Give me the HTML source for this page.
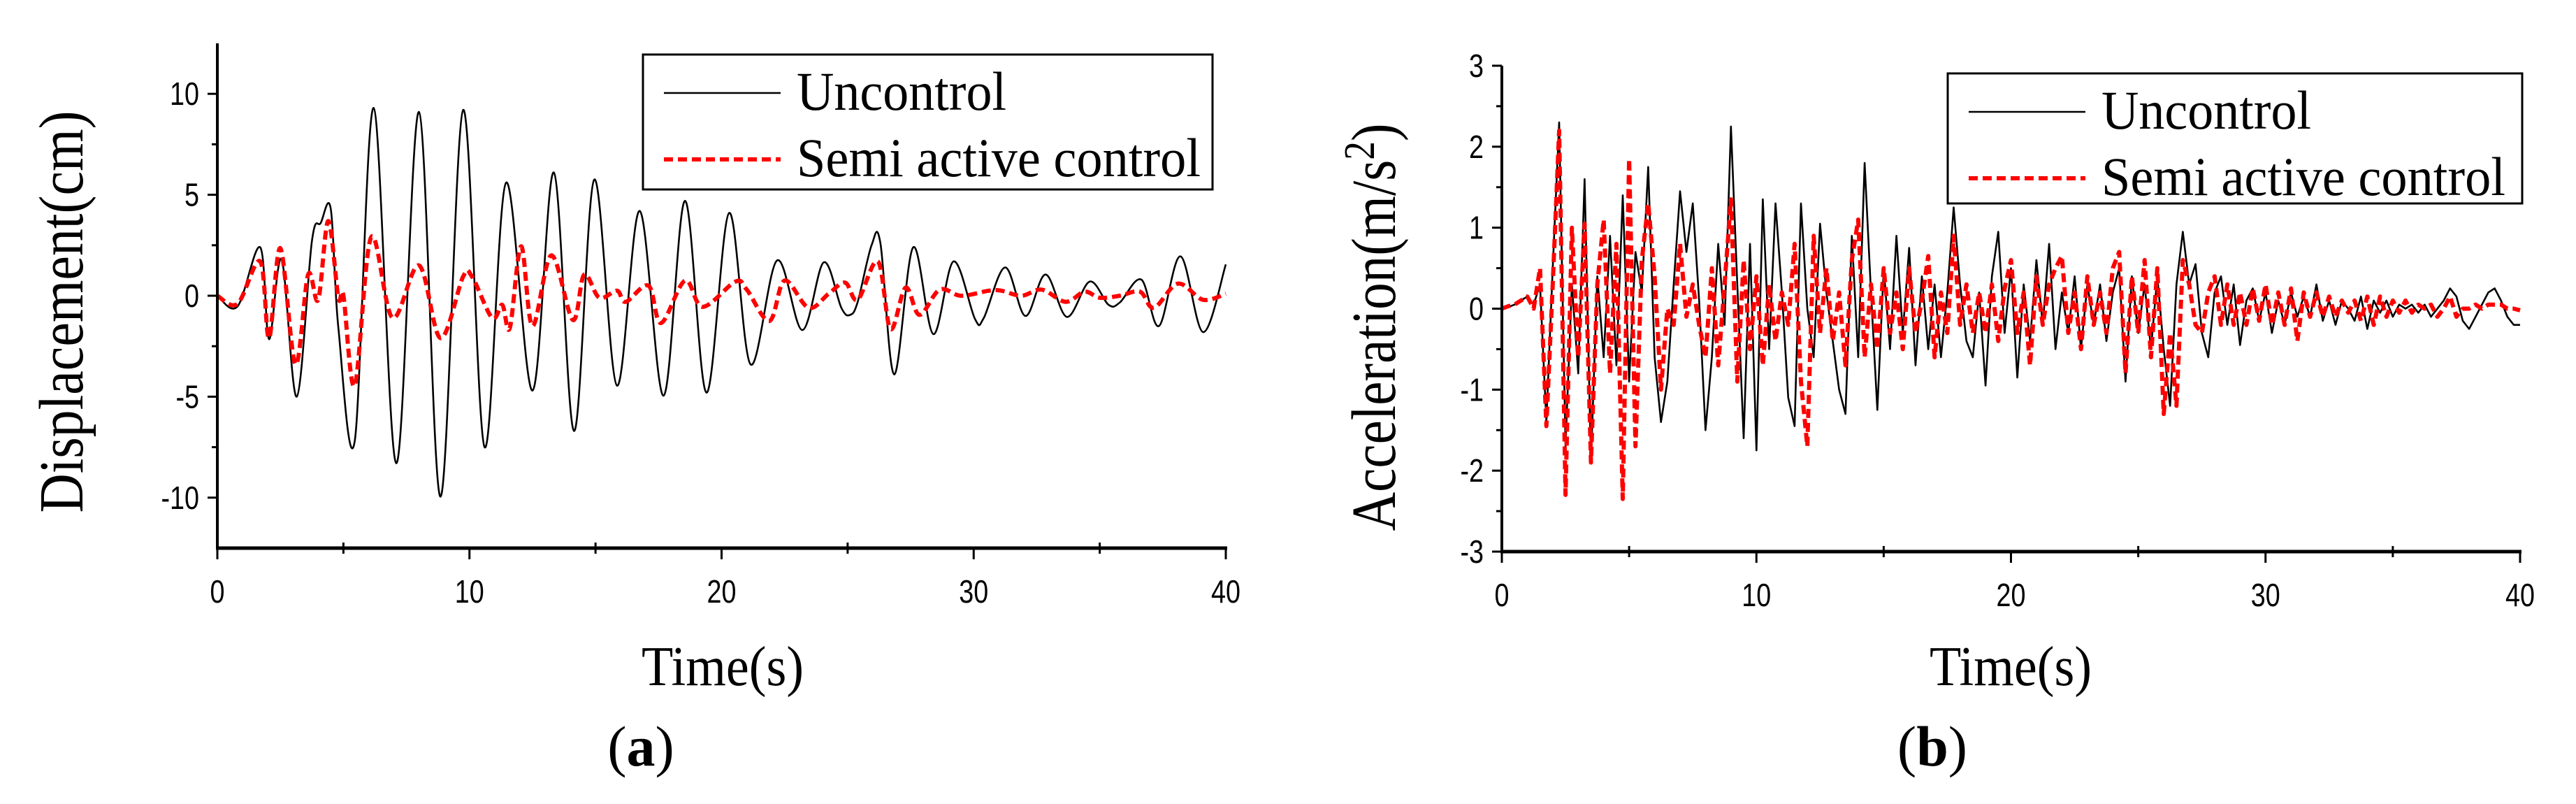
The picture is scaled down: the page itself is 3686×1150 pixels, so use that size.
<!DOCTYPE html>
<html><head><meta charset="utf-8"><style>
html,body{margin:0;padding:0;background:#fff;}
svg{display:block;}
</style></head><body>
<svg id="fig" width="3686" height="1150" viewBox="0 0 3686 1150" xmlns="http://www.w3.org/2000/svg"></svg>
<script>
// ---------- Panel (a): displacement (cm) ----------
const dispTimeU = [0,0.8,1.7,2.05,2.55,3.15,3.75,4.1,4.5,4.8,5.45,6.2,7.1,8.0,8.85,9.75,10.6,11.45,12.5,13.35,14.15,14.95,15.85,16.75,17.7,18.55,19.4,20.3,21.15,22.2,23.2,24.05,24.75,25.1,25.4,25.95,26.3,26.85,27.6,28.4,29.2,30.05,30.4,31.25,32.05,32.85,33.7,34.6,35.35,35.8,36.65,37.35,38.2,39.1,40];
const dispValU = [0,-0.53,2.4,-2.15,1.8,-5.0,2.7,3.6,4.3,-1.6,-7.2,9.3,-8.3,9.1,-9.95,9.2,-7.5,5.6,-4.7,6.1,-6.7,5.75,-4.45,4.2,-4.95,4.7,-4.8,4.1,-3.4,1.75,-1.7,1.65,-0.6,-0.95,-0.3,2.5,2.6,-3.9,2.4,-1.9,1.7,-1.15,-1.1,1.4,-1.0,1.05,-1.05,0.7,-0.45,-0.33,0.8,-1.5,1.95,-1.8,1.55];
const dispTimeS = [0,0.8,1.7,2.05,2.5,3.1,3.6,4.0,4.4,4.8,5.0,5.45,6.1,6.95,8.0,8.85,9.75,10.1,10.9,11.3,11.6,12.05,12.5,13.25,14.1,14.55,15.15,15.85,16.2,17.1,17.6,18.55,19.25,20.55,21.0,21.9,22.5,23.45,24.25,24.9,25.4,26.2,26.7,27.3,27.85,28.65,29.5,30.6,31.1,31.9,32.7,33.65,34.4,35.0,35.8,36.6,37.15,38.1,39.1,40];
const dispValS = [0,-0.4,1.7,-2.1,2.35,-3.4,1.05,-0.2,3.7,-0.1,0,-4.45,2.9,-1.1,1.5,-2.1,0.95,0.95,-1.1,-0.45,-1.6,2.45,-1.5,2.0,-1.2,1.05,-0.1,0.25,-0.3,0.5,-1.35,0.75,-0.55,0.7,0.3,-1.25,0.75,-0.6,0.1,0.65,-0.2,1.7,-1.65,0.4,-0.95,0.3,0,0.25,0.25,0,0.3,-0.3,0.2,-0.1,0,0.2,-0.6,0.6,-0.2,0.1];
const dispYTicks = [-10,-5,0,5,10];
const xTicks = [0,10,20,30,40];

// ---------- Panel (b): acceleration (m/s2), sampled every accDt seconds ----------
const accDt = 0.25;
const accValU = [0,0.02,0.05,0.1,0.15,0.05,0.3,-1.4,0.5,2.3,-1.7,0.3,-0.8,1.6,-1.9,0.4,-0.6,0.9,-0.7,1.4,-0.9,0.7,0.2,1.75,-0.6,-1.4,-0.9,0.3,1.45,0.7,1.3,0.1,-1.5,-0.6,0.8,-0.2,2.25,0.3,-1.6,0.8,-1.75,1.35,-0.5,1.3,0.2,-1.1,-1.45,1.3,0,-0.6,1.05,0.2,-0.4,-1.0,-1.3,0.9,-0.6,1.8,0.2,-1.25,0.5,-0.5,0.9,-0.3,0.75,-0.7,0.4,-0.5,0.3,-0.6,0.2,1.25,0.3,-0.4,-0.6,0.2,-0.95,0.4,0.95,-0.3,0.5,-0.85,0.3,-0.4,0.6,-0.2,0.8,-0.5,0.2,-0.3,0.4,-0.5,0.3,-0.2,0.3,-0.4,0.2,0.5,-0.9,0.4,-0.3,0.3,-0.5,0.4,-0.5,-1.2,0.3,0.95,0.3,0.55,-0.3,-0.6,0.2,0.4,-0.2,0.3,-0.45,0.1,0.25,-0.15,0.2,-0.3,0.1,-0.2,0.2,-0.1,0.15,-0.1,0.3,-0.15,0.1,-0.2,0.1,0,-0.15,0.15,-0.25,0.1,-0.05,0.1,-0.1,0.05,0,0.05,-0.05,0.05,-0.1,0,0.1,0.25,0.15,-0.15,-0.25,-0.1,0.05,0.2,0.25,0.1,-0.1,-0.2,-0.2];
const accValS = [0,0.03,0.05,0.1,0.15,0,0.5,-1.45,0.3,2.2,-2.3,1.0,-0.6,1.05,-1.9,0.3,1.1,-0.8,0.8,-2.35,1.85,-1.7,0.6,1.3,0.4,-1.0,0,-0.2,0.8,-0.1,0.3,-0.2,-0.6,0.5,-0.7,0.3,1.35,-0.9,0.6,-0.5,0.4,-0.7,0.3,-0.4,0.2,-0.2,0.8,-0.9,-1.7,0.9,-0.3,0.5,-0.4,0.2,-0.7,0.6,1.1,-0.6,0.3,-0.5,0.5,-0.3,0.2,-0.5,0.5,-0.3,0.1,0.65,-0.6,0.2,-0.3,0.9,-0.2,0.3,-0.3,0.2,-0.3,0.3,-0.4,0.25,0.6,-0.3,0.2,-0.7,0.4,-0.2,0.3,0.5,0.65,-0.3,0.2,-0.5,0.4,-0.2,0.2,-0.3,0.5,0.7,-0.8,0.4,-0.3,0.6,-0.6,0.5,-1.3,-0.3,-1.2,0.6,0.3,-0.2,-0.3,0.2,0.4,-0.2,0.3,-0.2,0.2,-0.2,0.25,-0.15,0.3,-0.2,0.2,-0.2,0.25,-0.4,0.2,-0.1,0.2,-0.1,0.15,-0.1,0.1,-0.05,0.1,-0.15,0.15,-0.2,0.15,-0.1,0.1,-0.05,0.1,-0.05,0.05,0,0.05,-0.1,0,0.15,-0.1,0,0,0.05,0,0.05,0.05,0.05,0,0,-0.02];
const accYTicks = [-3,-2,-1,0,1,2,3];

const NS = 'http://www.w3.org/2000/svg';
const svg = document.getElementById('fig');
function mk(tag, attrs, parent){
  const e = document.createElementNS(NS, tag);
  for (const k in attrs) e.setAttribute(k, attrs[k]);
  (parent||svg).appendChild(e);
  return e;
}
function smoothPath(pts){
  let d = 'M' + pts[0][0].toFixed(1) + ',' + pts[0][1].toFixed(1);
  for (let i=0;i<pts.length-1;i++){
    const p0=pts[Math.max(0,i-1)], p1=pts[i], p2=pts[i+1], p3=pts[Math.min(pts.length-1,i+2)];
    const c1x=p1[0]+(p2[0]-p0[0])/6, c1y=p1[1]+(p2[1]-p0[1])/6;
    const c2x=p2[0]-(p3[0]-p1[0])/6, c2y=p2[1]-(p3[1]-p1[1])/6;
    d += ' C'+c1x.toFixed(1)+','+c1y.toFixed(1)+' '+c2x.toFixed(1)+','+c2y.toFixed(1)+' '+p2[0].toFixed(1)+','+p2[1].toFixed(1);
  }
  return d;
}
function linePath(pts){
  return 'M' + pts.map(p=>p[0].toFixed(1)+','+p[1].toFixed(1)).join(' L');
}

function panel(cfg){
  const g = mk('g', {});
  
  
  const xs = t => cfg.x0 + (t - 0) / 40 * (cfg.x1 - cfg.x0);
  const ys = v => cfg.yB + (v - cfg.vmin) / (cfg.vmax - cfg.vmin) * (cfg.yT - cfg.yB);

  // series
  const su = mk('path', {d: cfg.smooth ? smoothPath(cfg.tu.map((t,i)=>[xs(t), ys(cfg.vu[i])])) : linePath(cfg.tu.map((t,i)=>[xs(t), ys(cfg.vu[i])])), fill:'none', stroke:'#000', 'stroke-width':2.6, 'stroke-linejoin':'round'}, g);
  
  
  const ss = mk('path', {d: cfg.smooth ? smoothPath(cfg.ts.map((t,i)=>[xs(t), ys(cfg.vs[i])])) : linePath(cfg.ts.map((t,i)=>[xs(t), ys(cfg.vs[i])])), fill:'none', stroke:'#f00', 'stroke-width':6, 'stroke-dasharray':'13,7', 'stroke-linejoin':'round'}, g);
  
  

  // axes
  const ya = mk('line', {x1:cfg.x0, y1:cfg.yT, x2:cfg.x0, y2:cfg.yB+2, stroke:'#000','stroke-width':4}, g);
  
  
  const xa = mk('line', {x1:cfg.x0-2, y1:cfg.yB, x2:cfg.x1+2, y2:cfg.yB, stroke:'#000','stroke-width':5}, g);
  
  

  // y ticks
  cfg.yticks.forEach(v=>{
    const y = ys(v);
    mk('line',{x1:cfg.x0-14,y1:y,x2:cfg.x0,y2:y,stroke:'#000','stroke-width':3},g);
    const t = mk('text',{x:cfg.x0-26,y:y+16,'text-anchor':'end','font-family':'"Liberation Sans Narrow","Liberation Sans",sans-serif','font-size':46,transform:'translate('+(cfg.x0-26)+',0) scale(0.82,1) translate('+(-(cfg.x0-26))+',0)'},g);
    t.textContent = v;
    
    
  });
  for (let i=0;i<cfg.yticks.length-1;i++){
    const y = ys((cfg.yticks[i]+cfg.yticks[i+1])/2);
    mk('line',{x1:cfg.x0-8,y1:y,x2:cfg.x0,y2:y,stroke:'#000','stroke-width':3},g);
  }
  // x ticks
  xTicks.forEach(v=>{
    const x = xs(v);
    mk('line',{x1:x,y1:cfg.yB,x2:x,y2:cfg.yB+16,stroke:'#000','stroke-width':3},g);
    const t = mk('text',{x:x,y:cfg.yB+78,'text-anchor':'middle','font-family':'"Liberation Sans Narrow","Liberation Sans",sans-serif','font-size':46,transform:'translate('+x+',0) scale(0.82,1) translate('+(-x)+',0)'},g);
    t.textContent = v;
    
    
  });
  for (let i=0;i<xTicks.length-1;i++){
    const x = xs((xTicks[i]+xTicks[i+1])/2);
    mk('line',{x1:x,y1:cfg.yB-8,x2:x,y2:cfg.yB+8,stroke:'#000','stroke-width':3},g);
  }

  // legend
  const lg = mk('g',{},g);
  
  
  const L = cfg.leg;
  mk('rect',{x:L.x,y:L.y,width:L.w,height:L.h,fill:'#fff',stroke:'#000','stroke-width':3},lg);
  const l1y = L.y + 55, l2y = L.y + 150;
  mk('line',{x1:L.x+30,y1:l1y,x2:L.x+197,y2:l1y,stroke:'#000','stroke-width':2.6},lg);
  mk('line',{x1:L.x+30,y1:l2y,x2:L.x+197,y2:l2y,stroke:'#f00','stroke-width':6,'stroke-dasharray':'13,7'},lg);
  const t1 = mk('text',{x:L.x+220,y:l1y+24,'font-family':'"Liberation Serif",serif','font-size':78,textLength:300,lengthAdjust:'spacingAndGlyphs'},lg);
  t1.textContent = 'Uncontrol';
  
  
  const t2 = mk('text',{x:L.x+220,y:l2y+24,'font-family':'"Liberation Serif",serif','font-size':78,textLength:578,lengthAdjust:'spacingAndGlyphs'},lg);
  t2.textContent = 'Semi active control';
  
  

  // x title
  const xt = mk('text',{x:cfg.xtX,y:980,'text-anchor':'middle','font-family':'"Liberation Serif",serif','font-size':80,textLength:232,lengthAdjust:'spacingAndGlyphs'},g);
  xt.textContent = 'Time(s)';
  
  
  // y title
  const yt = mk('text',{x:0,y:0,'text-anchor':'middle','font-family':'"Liberation Serif",serif','font-size':90,textLength:cfg.ytLen,lengthAdjust:'spacingAndGlyphs',transform:'translate('+cfg.ytX+','+cfg.ytY+') rotate(-90)'},g);
  
  
  if (cfg.sup){
    yt.appendChild(document.createTextNode(cfg.ytitle));
    const sp = document.createElementNS(NS,'tspan');
    sp.setAttribute('dy','-30'); sp.setAttribute('font-size','62'); sp.textContent='2';
    yt.appendChild(sp);
    const sp2 = document.createElementNS(NS,'tspan');
    sp2.setAttribute('dy','30'); sp2.textContent=')';
    yt.appendChild(sp2);
  } else yt.textContent = cfg.ytitle;
  // panel label
  const pl = mk('text',{x:cfg.plX,y:1095,'text-anchor':'middle','font-family':'"Liberation Serif",serif','font-size':82},g);
  
  
  pl.appendChild(document.createTextNode('('));
  const b = document.createElementNS(NS,'tspan'); b.setAttribute('font-weight','bold'); b.textContent=cfg.plabel; pl.appendChild(b);
  pl.appendChild(document.createTextNode(')'));
}

panel({name:'displacement-chart', x0:311, x1:1754, yT:62, yB:784, vmin:-12.5, vmax:12.5,
  tu:dispTimeU, vu:dispValU, ts:dispTimeS, vs:dispValS, smooth:true, yticks:dispYTicks,
  leg:{x:920,y:78,w:815,h:193}, xtX:1034, ytX:118, ytY:446, ytLen:575, ytitle:'Displacement(cm)', plX:917, plabel:'a'});

const accTime = accValU.map((_,i)=>i*accDt);
const accTimeS = accValS.map((_,i)=>i*accDt);
panel({name:'acceleration-chart', x0:2149, x1:3606, yT:94, yB:789, vmin:-3, vmax:3,
  tu:accTime, vu:accValU, ts:accTimeS, vs:accValS, smooth:false, yticks:accYTicks,
  leg:{x:2787,y:105,w:822,h:186}, xtX:2877, ytX:1996, ytY:468, ytLen:583, ytitle:'Acceleration(m/s', sup:true, plX:2765, plabel:'b'});
</script>
</body></html>
